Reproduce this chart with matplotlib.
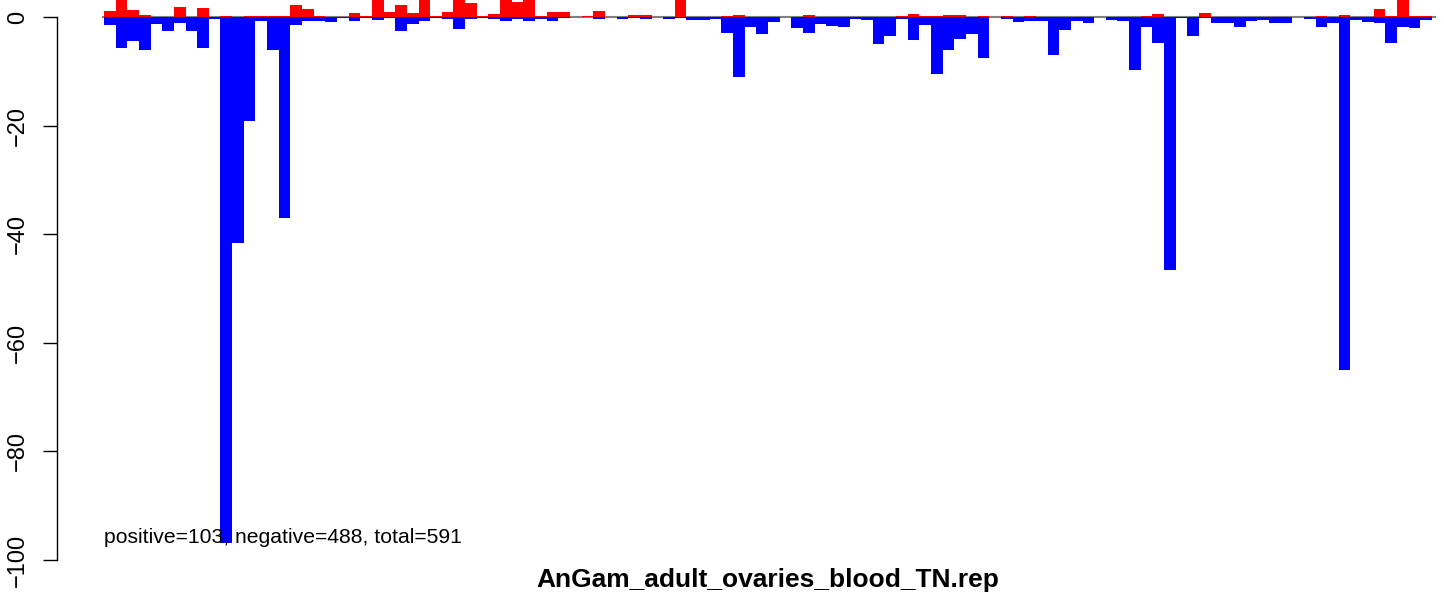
import numpy as np
import matplotlib
matplotlib.use("Agg")
from matplotlib import pyplot as plt

plt.rcParams['font.family'] = ['Liberation Sans', 'DejaVu Sans']

title = "AnGam_adult_ovaries_blood_TN.rep"
summary = "positive=103, negative=488, total=591"

# positive part of each bin (tops above ~3 are cut off in the picture)
pos = [1.1, 4.0, 1.3, 0.4, 0, 0, 1.8, 0, 1.65, 0,
       0.25, 0, 0.25, 0.2, 0.2, 0.2, 2.2, 1.5, 0.25, 0,
       0, 0.75, 0.25, 3.5, 0.9, 2.2, 0.75, 3.5, 0.25, 0.9,
       3.5, 2.55, 0.25, 0.55, 3.5, 2.75, 3.5, 0.25, 0.9, 0.9,
       0.05, 0.25, 1.1, 0.05, 0, 0.4, 0.4, 0.05, 0, 3.5,
       0.05, 0, 0, 0.25, 0.45, 0, 0, 0, 0, 0,
       0.4, 0, 0, 0, 0, 0, 0.05, 0.05, 0.25, 0.55,
       0.25, 0.2, 0.4, 0.4, 0, 0.25, 0.05, 0.25, 0, 0.25,
       0, 0, 0, 0, 0, 0, 0, 0, 0.05, 0.25,
       0.55, 0, 0, 0, 0.75, 0, 0.05, 0, 0, 0,
       0.05, 0, 0, 0, 0.25, 0, 0.4, 0, 0, 1.5,
       0.25, 3.5, 0.25, 0.25]

# negative part of each bin
neg = [-1.4, -5.8, -4.5, -6.0, -1.3, -2.5, -1.1, -2.5, -5.8, -0.3,
       -96.8, -41.6, -19.2, -0.7, -6.0, -37.0, -1.4, -0.7, -0.7, -0.85,
       -0.25, -0.7, -0.15, -0.5, -0.15, -2.5, -1.3, -0.7, -0.15, -0.35,
       -2.2, -0.35, -0.1, -0.35, -0.7, -0.35, -0.7, -0.35, -0.7, -0.15,
       0, 0, -0.35, 0, -0.35, -0.1, -0.35, 0, -0.35, -0.1,
       -0.5, -0.5, -0.35, -2.9, -11.0, -1.8, -3.2, -0.9, 0, -2.0,
       -2.9, -1.3, -1.65, -1.8, -0.3, -0.55, -4.9, -3.5, -0.35, -4.2,
       -1.5, -10.5, -6.0, -4.0, -3.1, -7.5, 0, -0.35, -0.9, -0.7,
       -0.7, -7.0, -2.4, -0.75, -1.1, 0, -0.5, -0.7, -9.8, -1.8,
       -4.75, -46.6, -0.1, -3.5, -0.1, -1.1, -1.1, -1.8, -0.7, -0.5,
       -1.1, -1.1, 0, -0.3, -1.8, -1.1, -65.1, -0.5, -0.9, -1.1,
       -4.75, -1.75, -2.0, -0.5]

x = np.arange(len(pos))

W, H = 1444, 593
fig = plt.figure(figsize=(W / 100, H / 100), dpi=100)
# plot region: bars from px 104 to 1432, y=0 at px 17, y=-100 at px 560
ppu = (560 - 17) / 100.0
ymax = 4.0
bottom = (H - 560) / H
height = (100 + ymax) * ppu / H
ax = fig.add_axes([104 / W, bottom, (1432 - 104) / W, height])

ax.axhline(0, color='#808080', lw=1.5, zorder=1, xmin=-0.001, xmax=1.002, clip_on=False)
ax.bar(x, pos, width=1, align='edge', color='red', linewidth=0, zorder=2)
ax.bar(x, neg, width=1, align='edge', color='blue', linewidth=0, zorder=3)

ax.set_xlim(0, len(pos))
ax.set_ylim(-100, ymax)

for s in ['top', 'right', 'bottom']:
    ax.spines[s].set_visible(False)
ax.spines['left'].set_position(('outward', 47 * 0.72))
ax.spines['left'].set_bounds(-100, 0)
ax.spines['left'].set_linewidth(1.0)
ax.set_xticks([])
ax.set_yticks([0, -20, -40, -60, -80, -100])
ax.tick_params(axis='y', length=10, width=1.0, pad=10, labelsize=17)
for lab in ax.get_yticklabels():
    lab.set_rotation(90)
    lab.set_va('center')

ax.text(0, -95.8, summary, fontsize=15.2, ha='left', va='center')
fig.text(768 / W, (H - 580) / H, title, fontsize=19, fontweight='bold',
         ha='center', va='center')

fig.savefig("out.png", dpi=100)
